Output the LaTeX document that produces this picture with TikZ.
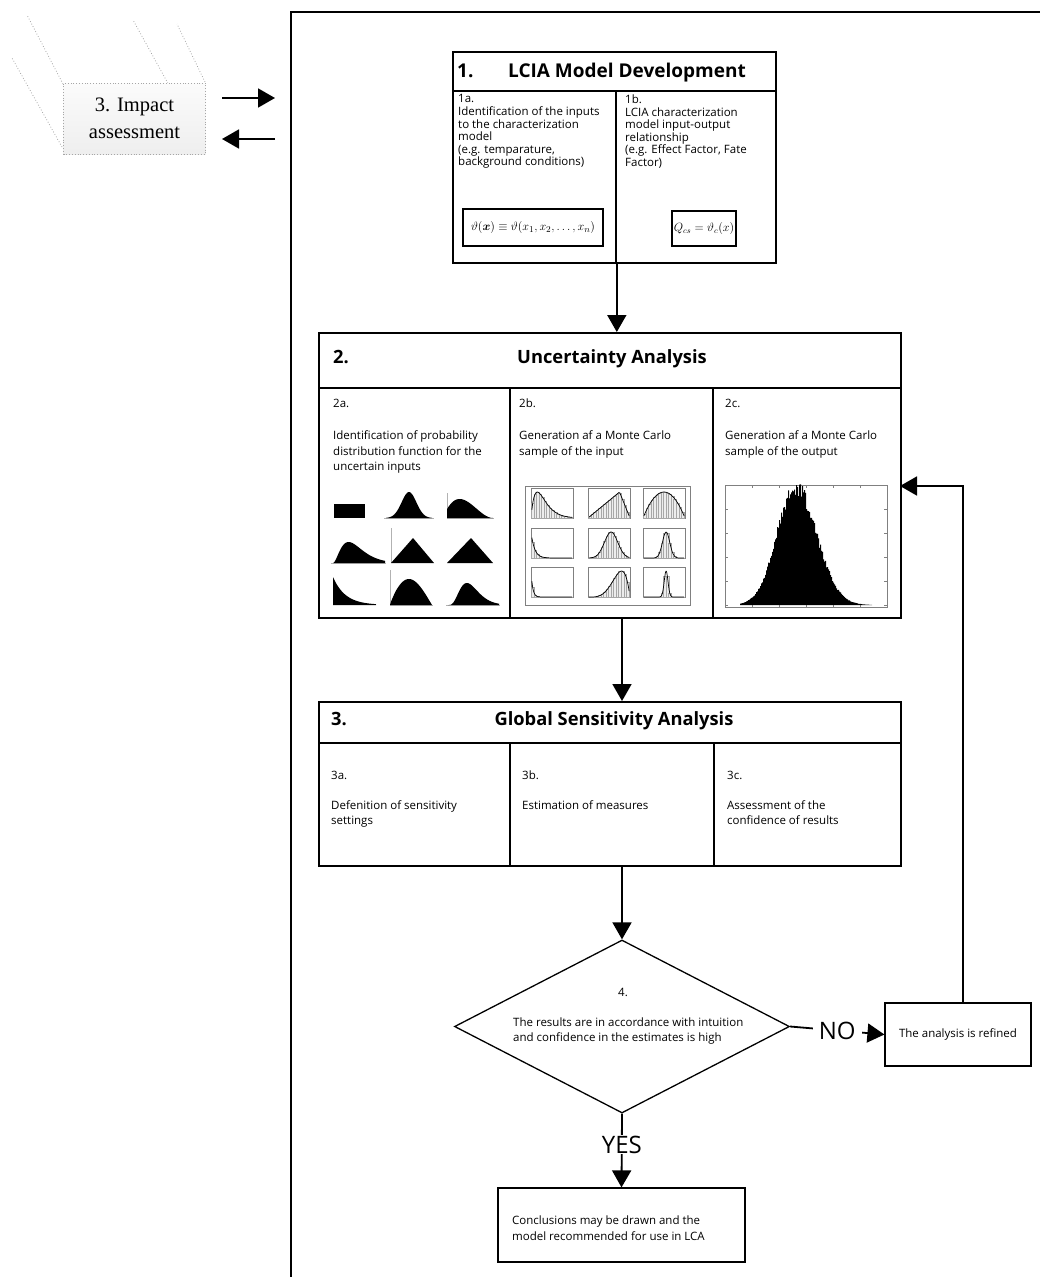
\documentclass[tikz,border=0pt]{standalone}
\usepackage{fontspec}
\setmainfont{Open Sans}
\newfontfamily\timesfont{Liberation Serif}
\usepackage{amsmath}
\usepackage{amssymb}
\usepackage{bm}
\usetikzlibrary{shapes.geometric,arrows.meta,calc}

% one small histogram of the Monte Carlo input sample
\newcommand\mchist[3]{%
  \draw[gray, line width=.4pt] (#1,#2) rectangle ++(42,30);
  \foreach \t in {0.04,0.1,...,0.97}{
    \pgfmathsetmacro\hh{#3}
    \draw[gray!70, line width=.3pt, fill=gray!15]
      ({#1+42*\t-1.3},{#2+30}) rectangle ({#1+42*\t+1.3},{#2+30-26*\hh});
  }
  \draw[line width=.7pt]
    plot[domain=0.02:0.98, samples=40, variable=\t, smooth]
    ({#1+42*\t},{#2+30-26*(#3)});
}

\begin{document}
\begin{tikzpicture}[x=1pt, y=-1pt,
  box/.style={draw, line width=1.8pt, inner sep=0pt, anchor=north west},
  thinbox/.style={draw, line width=1.2pt, inner sep=0pt},
  txt/.style={anchor=north west, inner sep=0pt, align=left,
    font=\fontsize{11.5}{12.6}\selectfont},
  ttl/.style={inner sep=0pt, anchor=base, font=\fontsize{18.3}{20}\selectfont\bfseries},
  bigarrow/.style={line width=1.8pt, -{Triangle[length=17pt, width=19pt]}},
  yesno/.style={fill=white, inner xsep=6pt, inner ysep=1pt,
    font=\fontsize{24}{26}\selectfont},
  shadowline/.style={gray!70, dotted, line width=.8pt},
]
\useasboundingbox (0,0) rectangle (1040,1277);

% outer frame
\draw[line width=1.5pt] (291,1300) -- (291,12) -- (1060,12);

% impact assessment box
\draw[shadowline] (63,84) -- (27,15);
\draw[shadowline] (62,147) -- (12,58);
\draw[shadowline] (203,147) -- (133,20);
\draw[shadowline] (205,82) -- (177,24);
\node[draw=gray!70, dotted, line width=.8pt, top color=gray!3,
  bottom color=gray!13, minimum width=142, minimum height=71,
  inner sep=0pt, align=center,
  font=\timesfont\fontsize{20.5}{27}\selectfont] (impact) at (134.5,118.5)
  {3. Impact\\assessment};
\coordinate (ia1) at (222,98);
\coordinate (ia2) at (275,98);
\coordinate (ib1) at (275,139);
\coordinate (ib2) at (222,139);
\draw[bigarrow] (ia1) -- (ia2);
\draw[bigarrow] (ib1) -- (ib2);

% 1. LCIA model development
\node[box, minimum width=323, minimum height=39] (h1) at (452,51) {};
\node[box, minimum width=163, minimum height=172] (c1a) at (452,90) {};
\node[box, minimum width=160, minimum height=172] (c1b) at (615,90) {};
\node[ttl, anchor=base west, font=\fontsize{19}{21}\selectfont\bfseries] (n1)
  at (457,77) {1.};
\node[ttl, font=\fontsize{19}{21}\selectfont\bfseries] (t1) at (627,77)
  {LCIA Model Development};
\node[txt] (t1a) at (458,94.5) {1a.\\Identification of the inputs\\to the
  characterization\\model\\(e.g. temparature,\\background conditions)};
\node[txt] (t1b) at (625,94.5) {1b.\\LCIA characterization\\model
  input-output\\relationship\\(e.g. Effect Factor, Fate\\Factor)};
\node[draw, line width=1.6pt, minimum width=140, minimum height=37,
  inner sep=0pt, font=\fontsize{12.8}{14}\selectfont] (f1) at (533,227.5)
  {$\vartheta(\boldsymbol{x}) \equiv \vartheta(x_1, x_2, \dots, x_n)$};
\node[draw, line width=1.6pt, minimum width=64, minimum height=35,
  inner sep=0pt, font=\fontsize{11.5}{13}\selectfont] (f2) at (704,228.5)
  {$Q_{cs} = \vartheta_c(x)$};

% 2. uncertainty analysis
\node[box, minimum width=582, minimum height=55] (h2) at (318,332) {};
\node[box, minimum width=191, minimum height=230] (c2a) at (318,387) {};
\node[box, minimum width=203, minimum height=230] (c2b) at (509,387) {};
\node[box, minimum width=188, minimum height=230] (c2c) at (712,387) {};
\node[ttl, anchor=base west] (n2) at (333,363) {2.};
\node[ttl] (t2) at (612,363) {Uncertainty Analysis};
\node[txt, font=\fontsize{11.5}{15.5}\selectfont] (t2a) at (333,399)
  {2a.\\[16.5pt]Identification of probability\\distribution function for
  the\\uncertain inputs};
\node[txt, font=\fontsize{11.5}{15.5}\selectfont] (t2b) at (519,399)
  {2b.\\[16.5pt]Generation af a Monte Carlo\\sample of the input};
\node[txt, font=\fontsize{11.5}{15.5}\selectfont] (t2c) at (725,399)
  {2c.\\[16.5pt]Generation af a Monte Carlo\\sample of the output};

% 2a: probability distribution functions
\fill (334,504) rectangle (365,518);
\draw[gray!60, line width=.3pt] (384,518) -- (434,518);
\fill (386,518) -- plot[domain=0:1, samples=40]
  ({386+46*\x},{518-26*exp(-19.5*(\x-0.5)*(\x-0.5))}) -- (432,518) -- cycle;
\draw[gray!60, line width=.3pt] (447,493) -- (447,518) -- (494,518);
\fill (447,518) -- plot[domain=0.08:1, samples=40]
  ({447+46*(\x-0.08)/0.92},{518-19*6.75*\x*(1-\x)*(1-\x)}) -- (493,518)
  -- cycle;
\draw[gray!60, line width=.3pt] (331,563) -- (386,563);
\fill (333,563) -- plot[domain=0.01:1, samples=50]
  ({333+52*\x},{563-21*(\x/0.3)*(\x/0.3)*exp(2*(1-\x/0.3))}) -- (385,563)
  -- cycle;
\draw[gray!60, line width=.3pt] (391,528) -- (391,563);
\fill (391,563) -- (413,538) -- (434,563) -- cycle;
\fill (447,563) -- (471,538) -- (493,563) -- cycle;
\fill (333,605) -- plot[domain=0:1, samples=40]
  ({333+43*\x},{605-28*exp(-3.5*\x)}) -- (376,605) -- cycle;
\draw[gray!60, line width=.3pt] (390,570) -- (390,605) -- (433,605);
\fill (390,605) -- plot[domain=0.01:1, samples=40]
  ({390+42*\x},{605-26*sin(180*\x^0.87)}) -- (432,605) -- cycle;
\draw[gray!60, line width=.3pt] (446,605) -- (500,605);
\fill (448,605) -- plot[domain=0.01:1, samples=50]
  ({448+51*\x},{605-22*(\x/0.37)^4*exp(4*(1-\x/0.37))}) -- (499,605)
  -- cycle;

% 2b: Monte Carlo sample of the input
\draw[gray, line width=.6pt] (525,486) rectangle (690,605);
\mchist{531}{488}{(\t/0.15)*exp(1-\t/0.15)}
\mchist{588}{488}{min(\t/0.75,(1-\t)/0.25)}
\mchist{643}{488}{4*\t*(1-\t)}
\mchist{531}{528}{exp(-12*\t)}
\mchist{588}{528}{exp(-(\t-0.55)*(\t-0.55)/0.05)}
\mchist{643}{528}{exp(-(\t-0.55)*(\t-0.55)/0.015)}
\mchist{531}{567}{exp(-25*\t)}
\mchist{588}{567}{12.2*\t^4*(1-\t)}
\mchist{643}{567}{exp(-(\t-0.55)*(\t-0.55)/0.004)}

% 2c: Monte Carlo sample of the output
\draw[gray, line width=.6pt] (725,485) rectangle (887,607);
\foreach \k in {0,...,6}{
  \draw[gray, line width=.4pt] ({725+27*\k},607) -- ++(0,-3);
  \draw[gray, line width=.4pt] ({725+27*\k},485) -- ++(0,3);
}
\foreach \k in {0,...,5}{
  \draw[gray, line width=.4pt] (725,{485+24*\k}) -- ++(3,0);
  \draw[gray, line width=.4pt] (887,{485+24*\k}) -- ++(-3,0);
}
\pgfmathsetseed{11}
\fill (740,605) -- plot[const plot, domain=740:872, samples=133]
  (\x,{605-118*exp(-(\x-795)*(\x-795)/(2*((\x<795)?18.5:21)^2))
  *(0.93+0.14*rnd)}) -- (872,605) -- cycle;

% 3. global sensitivity analysis
\node[box, minimum width=582, minimum height=41] (h3) at (318,701) {};
\node[box, minimum width=191, minimum height=123] (c3a) at (318,742) {};
\node[box, minimum width=204, minimum height=123] (c3b) at (509,742) {};
\node[box, minimum width=187, minimum height=123] (c3c) at (713,742) {};
\node[ttl, anchor=base west] (n3) at (331,725) {3.};
\node[ttl] (t3) at (614,725) {Global Sensitivity Analysis};
\node[txt, font=\fontsize{11.5}{15}\selectfont] (t3a) at (331,771)
  {3a.\\[15pt]Defenition of sensitivity\\settings};
\node[txt, font=\fontsize{11.5}{15}\selectfont] (t3b) at (522,771)
  {3b.\\[15pt]Estimation of measures};
\node[txt, font=\fontsize{11.5}{15}\selectfont] (t3c) at (727,771)
  {3c.\\[15pt]Assessment of the\\confidence of results};

% 4. decision
\node[draw, diamond, line width=1.3pt, minimum width=335, minimum height=173,
  inner sep=0pt] (dia) at (622,1026.5) {};
\node[inner sep=0pt, font=\fontsize{11.5}{15}\selectfont] (n4) at (623,992) {4.};
\node[txt, font=\fontsize{11.5}{15}\selectfont] (t4) at (513,1018)
  {The results are in accordance with intuition\\and confidence in the
  estimates is high};
\node[thinbox, minimum width=146, minimum height=63,
  font=\fontsize{11.5}{13}\selectfont] (refined) at (958,1034.5)
  {The analysis is refined};
\node[thinbox, minimum width=247, minimum height=74] (concl) at (621.5,1225) {};
\node[txt, font=\fontsize{11.5}{16}\selectfont] (tc) at (512,1216)
  {Conclusions may be drawn and the\\model recommended for use in LCA};

% connectors
\coordinate (fb) at (900,486);
\draw[bigarrow] (c1a.south east) -- (c1a.south east |- h2.north);
\draw[bigarrow] (dia.north |- c2b.south) -- (dia.north |- h3.north);
\draw[bigarrow] (dia.north |- c3b.south) -- (dia.north);
\draw[bigarrow] (dia.east) -- node[yesno] {NO} (refined.west);
\draw[bigarrow] (dia.south) -- node[yesno, pos=.42] {YES} (concl.north);
\draw[bigarrow] ([xshift=5pt]refined.north) |- (fb);
\end{tikzpicture}
\end{document}
